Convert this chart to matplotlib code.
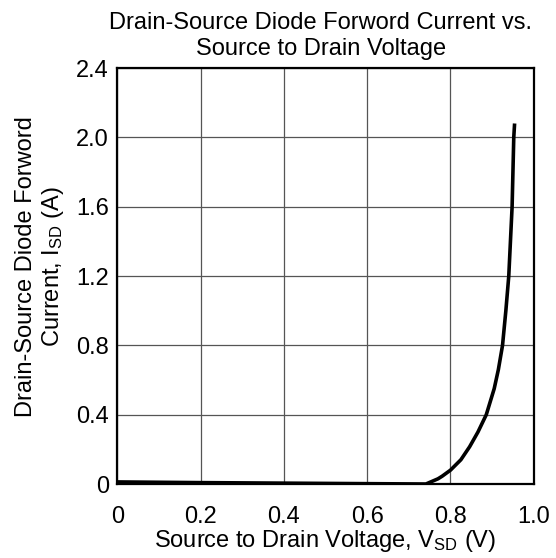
import matplotlib
matplotlib.use("Agg")
import matplotlib.pyplot as plt

plt.rcParams.update({"font.family": ["Liberation Sans", "DejaVu Sans"],
                     "mathtext.fontset": "custom",
                     "mathtext.rm": "Liberation Sans",
                     "mathtext.it": "Liberation Sans"})

# values
v_sd = [0.0, 0.2, 0.4, 0.6, 0.741, 0.77, 0.78, 0.8, 0.825, 0.846, 0.866,
        0.886, 0.905, 0.915, 0.925, 0.933, 0.94, 0.948, 0.952, 0.954]
i_sd = [0.012, 0.008, 0.005, 0.002, 0.0, 0.03, 0.045, 0.08, 0.14, 0.215, 0.30,
        0.40, 0.55, 0.66, 0.80, 1.00, 1.20, 1.60, 2.00, 2.08]
x_ticks = [0, 0.2, 0.4, 0.6, 0.8, 1.0]
x_labels = ["0", "0.2", "0.4", "0.6", "0.8", "1.0"]
y_ticks = [0, 0.4, 0.8, 1.2, 1.6, 2.0, 2.4]
y_labels = ["0", "0.4", "0.8", "1.2", "1.6", "2.0", "2.4"]

fig = plt.figure(figsize=(5.56, 5.58), dpi=100)
ax = fig.add_axes([0.211, 0.1326, 0.749, 0.7455])
ax.plot(v_sd, i_sd, color="black", lw=2.6, solid_capstyle="butt", zorder=3)
ax.set_xlim(0, 1.0)
ax.set_ylim(0, 2.4)
ax.set_xticks(x_ticks, x_labels)
ax.set_yticks(y_ticks, y_labels)
ax.tick_params(length=0, labelsize=17)
ax.tick_params(axis="x", pad=16)
ax.tick_params(axis="y", pad=6)
ax.grid(True, color="#555555", lw=0.9)
for s in ax.spines.values():
    s.set_linewidth(1.6)
    s.set_color("black")

fig.text(0.577, 0.936, "Drain-Source Diode Forword Current vs.\nSource to Drain Voltage",
         ha="center", va="center", fontsize=17, linespacing=1.25)
fig.text(0.585, 0.030, r"Source to Drain Voltage, V$_{\rm SD}$ (V)",
         ha="center", va="center", fontsize=17)
fig.text(0.073, 0.522, "Drain-Source Diode Forword\n" + r"Current, I$_{\rm SD}$ (A)",
         ha="center", va="center", rotation=90, fontsize=17, linespacing=1.2)

fig.savefig("out.png", dpi=100)
